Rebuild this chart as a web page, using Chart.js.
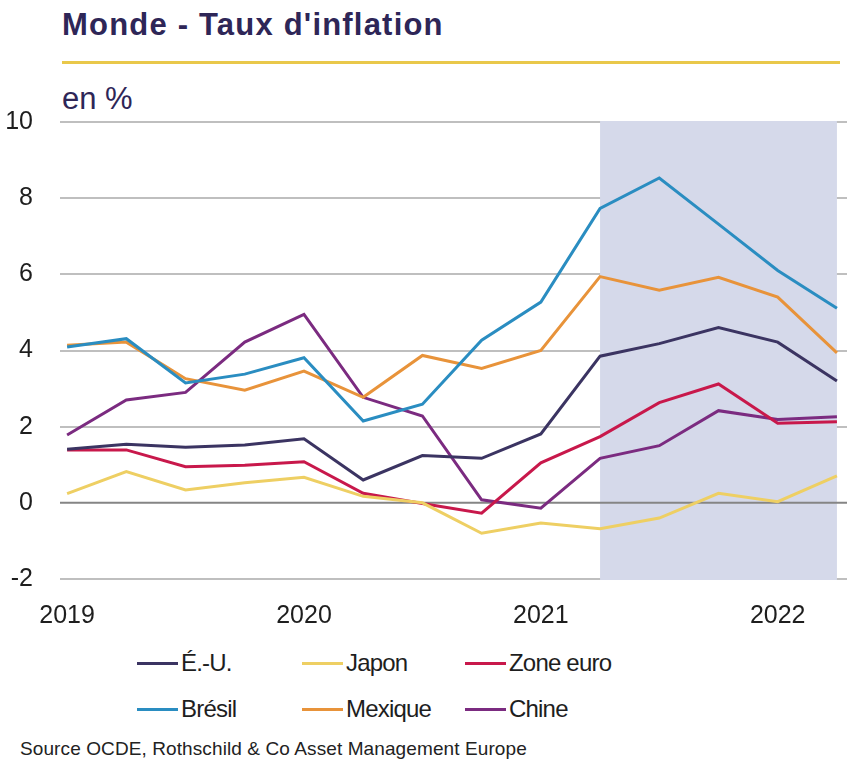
<!DOCTYPE html>
<html>
<head>
<meta charset="utf-8">
<script src="https://cdn.jsdelivr.net/npm/chart.js@4/dist/chart.umd.min.js"></script>
<style>
  html, body { margin: 0; padding: 0; background: #fff; }
  body { width: 864px; height: 773px; position: relative; overflow: hidden; font-family: "Liberation Sans", Arial, sans-serif; }
  #title { position: absolute; left: 62px; top: 7px; font-size: 31px; font-weight: bold; color: #2e2657; white-space: nowrap; letter-spacing: 1.2px; }
  #rule { position: absolute; left: 62px; top: 61px; width: 778px; height: 3px; background: #e9c84a; }
  #unit { position: absolute; left: 62px; top: 81px; font-size: 31px; color: #2e2657; }
  #wrap { position: absolute; left: 0; top: 80px; width: 864px; height: 560px; }
  #legend { position: absolute; left: 0; top: 648px; width: 864px; height: 80px; }
  .item { position: absolute; height: 30px; display: flex; align-items: center; font-size: 24px; color: #1e1e1e; white-space: nowrap; letter-spacing: -0.8px; }
  .item span.ln { display: inline-block; width: 41px; height: 3px; margin-right: 3px; }
  #source { position: absolute; left: 20px; top: 738px; font-size: 19px; color: #222; white-space: nowrap; letter-spacing: 0.1px; }
</style>
</head>
<body>
<div id="title">Monde - Taux d'inflation</div>
<div id="rule"></div>
<div id="unit">en %</div>
<div id="wrap"><canvas id="infl"></canvas></div>
<div id="legend"></div>
<div id="source">Source OCDE, Rothschild &amp; Co Asset Management Europe</div>
<script>
// trimestres, T1 2019 -> T2 2022
var quarters = ['2019 T1','2019 T2','2019 T3','2019 T4','2020 T1','2020 T2','2020 T3','2020 T4',
                '2021 T1','2021 T2','2021 T3','2021 T4','2022 T1','2022 T2'];

var names = ['É.-U.', 'Japon', 'Zone euro', 'Brésil', 'Mexique', 'Chine'];
var colors = ['#3b3462', '#eecf63', '#c8184b', '#2a8dc1', '#e8933a', '#7b2b80'];

var eu      = [1.41, 1.54, 1.46, 1.52, 1.68, 0.60, 1.24, 1.17, 1.81, 3.85, 4.18, 4.60, 4.22, 3.20];
var japon   = [0.24, 0.82, 0.34, 0.53, 0.67, 0.17, 0.00, -0.80, -0.53, -0.68, -0.40, 0.25, 0.03, 0.71];
var euro    = [1.39, 1.39, 0.95, 0.99, 1.08, 0.25, -0.02, -0.27, 1.05, 1.74, 2.63, 3.12, 2.09, 2.13];
var bresil  = [4.09, 4.31, 3.15, 3.38, 3.81, 2.15, 2.59, 4.27, 5.27, 7.73, 8.53, 7.32, 6.10, 5.11];
var mexique = [4.14, 4.22, 3.26, 2.96, 3.46, 2.77, 3.87, 3.53, 4.00, 5.94, 5.58, 5.92, 5.40, 3.94];
var chine   = [1.78, 2.70, 2.90, 4.22, 4.95, 2.77, 2.28, 0.08, -0.14, 1.17, 1.50, 2.42, 2.19, 2.26];

var series = [eu, japon, euro, bresil, mexique, chine];
var shadeFrom = '2021 T2';
var shadeTo = '2022 T2';

var datasets = [];
for (var i = 0; i < series.length; i++) {
  datasets.push({
    label: names[i],
    data: series[i].map(function (v, k) { return { x: k, y: v }; }),
    borderColor: colors[i],
    backgroundColor: colors[i],
    borderWidth: 3,
    pointRadius: 0,
    tension: 0
  });
}

// zone grisée + ligne du zéro par-dessus
var shadePlugin = {
  id: 'shade',
  beforeDatasetsDraw: function (chart) {
    var ctx = chart.ctx, xs = chart.scales.x, ys = chart.scales.y, a = chart.chartArea;
    var x0 = xs.getPixelForValue(quarters.indexOf(shadeFrom));
    var x1 = xs.getPixelForValue(quarters.indexOf(shadeTo));
    ctx.save();
    ctx.fillStyle = '#d5d9ea';
    ctx.fillRect(x0, a.top - 1, x1 - x0, a.bottom - a.top + 2);
    var y0 = ys.getPixelForValue(0);
    ctx.strokeStyle = '#858585';
    ctx.lineWidth = 2;
    ctx.beginPath();
    ctx.moveTo(a.left, y0);
    ctx.lineTo(a.right, y0);
    ctx.stroke();
    ctx.restore();
  }
};

new Chart('infl', {
  type: 'line',
  data: { datasets: datasets },
  plugins: [shadePlugin],
  options: {
    responsive: true,
    maintainAspectRatio: false,
    animation: false,
    layout: { padding: { top: 1, right: 17, bottom: 0, left: 0 } },
    plugins: { legend: { display: false }, tooltip: { enabled: false } },
    scales: {
      x: {
        type: 'linear',
        min: -0.12,
        max: 13.17,
        grid: { display: false },
        border: { display: false },
        afterBuildTicks: function (scale) {
          var t = [];
          quarters.forEach(function (q, k) { if (q.indexOf('T1') > 0) t.push({ value: k }); });
          scale.ticks = t;
        },
        afterFit: function (scale) { scale.height = 61; },
        ticks: {
          padding: 14,
          maxRotation: 0,
          color: '#1e1e1e',
          font: { family: 'Liberation Sans', size: 25 },
          callback: function (v) { return quarters[v] ? quarters[v].slice(0, 4) : ''; }
        }
      },
      y: {
        min: -2,
        max: 10,
        border: { display: false },
        grid: { color: function (c) { return c.tick.value === 0 ? 'rgba(0,0,0,0)' : '#bfbfbf'; }, lineWidth: 2, drawTicks: false },
        afterFit: function (scale) { scale.width = 60; },
        ticks: {
          stepSize: 2,
          padding: 27,
          color: '#1e1e1e',
          font: { family: 'Liberation Sans', size: 25 }
        }
      }
    }
  }
});

// légende en 3 colonnes
var legend = document.getElementById('legend');
var colLeft = [137, 302, 465];
names.forEach(function (n, i) {
  var d = document.createElement('div');
  d.className = 'item';
  d.style.left = colLeft[i % 3] + 'px';
  d.style.top = (i < 3 ? 0 : 46) + 'px';
  d.innerHTML = '<span class="ln" style="background:' + colors[i] + '"></span>' + n;
  legend.appendChild(d);
});
</script>
</body>
</html>
